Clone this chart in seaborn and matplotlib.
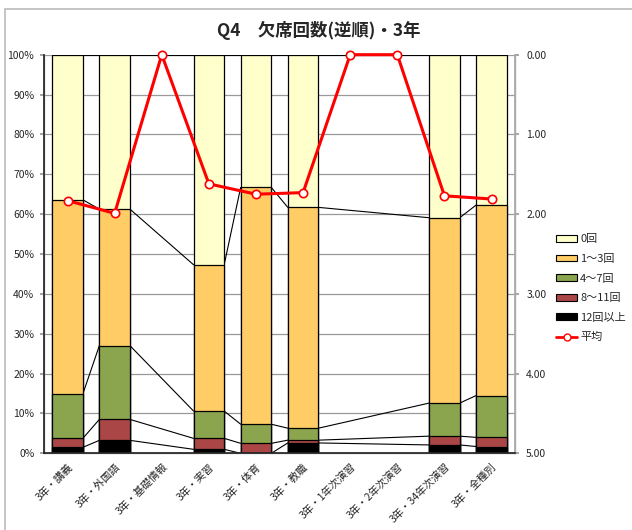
import numpy as np
import pandas as pd
import matplotlib
matplotlib.use("Agg")
import matplotlib.pyplot as plt
import seaborn as sns
from matplotlib.patches import Patch, Rectangle
from matplotlib.lines import Line2D

sns.set_theme(style="white")
plt.rcParams['font.family'] = ['Noto Sans CJK JP', 'DejaVu Sans']

categories = ["3年・講義", "3年・外国語", "3年・基礎情報", "3年・実習", "3年・体育",
              "3年・教職", "3年・1年次演習", "3年・2年次演習", "3年・34年次演習", "3年・全種別"]
levels = ["0回", "1～3回", "4～7回", "8～11回", "12回以上"]
nan = np.nan
v0 = [36.4, 38.75, nan, 52.7, 33.3, 38.3, nan, nan, 40.9, 37.7]
v1_3 = [48.7, 34.25, nan, 36.7, 59.4, 55.4, nan, nan, 46.5, 47.8]
v4_7 = [11.15, 18.5, nan, 6.85, 4.8, 3.0, nan, nan, 8.3, 10.5]
v8_11 = [2.25, 5.25, nan, 2.75, 2.5, 0.7, nan, nan, 2.2, 2.3]
v12 = [1.5, 3.25, nan, 1.0, 0.0, 2.6, nan, nan, 2.1, 1.7]
average = [1.83, 1.99, 0.0, 1.62, 1.75, 1.73, 0.0, 0.0, 1.77, 1.81]

colors = {"0回": "#FFFFCC", "1～3回": "#FFCC66", "4～7回": "#8BA54E",
          "8～11回": "#AA4646", "12回以上": "#000000"}

# cumulative tops (bottom-up order: 12+, 8-11, 4-7, 1-3, 0)
series = {"12回以上": v12, "8～11回": v8_11, "4～7回": v4_7, "1～3回": v1_3, "0回": v0}
cum = {}
running = np.zeros(len(categories))
for lv in ["12回以上", "8～11回", "4～7回", "1～3回", "0回"]:
    running = running + np.array(series[lv], dtype=float)
    cum[lv] = running.copy()

rows = []
for lv in levels:
    for c, val in zip(categories, cum[lv]):
        if not np.isnan(val):
            rows.append({"cat": c, "level": lv, "cum": val})
df = pd.DataFrame(rows)

fig = plt.figure(figsize=(6.32, 5.30), dpi=100)
ax = fig.add_axes([0.0696, 0.1447, 0.815 - 0.0696, 0.8968 - 0.1447])

W = 0.65
sns.barplot(data=df, x="cat", y="cum", hue="level", order=categories, hue_order=levels,
            palette=colors, saturation=1, dodge=False, width=W, edgecolor="black",
            linewidth=0.9, ax=ax, legend=False, zorder=3)

# series lines between consecutive non-empty bars
valid = [i for i in range(len(categories)) if not np.isnan(cum["0回"][i])]
for lv in levels:
    for a, b in zip(valid[:-1], valid[1:]):
        ax.plot([a + W / 2, b - W / 2], [cum[lv][a], cum[lv][b]], color="black", lw=0.8, zorder=2)

ax.set_xlim(-0.5, len(categories) - 0.5)
ax.set_ylim(0, 100)
ax.set_yticks(np.arange(0, 101, 10))
ax.set_yticklabels([f"{t}%" for t in range(0, 101, 10)], fontsize=7.5)
ax.yaxis.grid(True, color="#999999", lw=0.9, zorder=0)
ax.set_axisbelow(True)
ax.set_xlabel("")
ax.set_ylabel("")
ax.set_xticks(range(len(categories)))
ax.set_xticklabels(categories, rotation=45, ha="right", rotation_mode="anchor", fontsize=7.5)
ax.tick_params(axis="x", length=0, pad=6)
ax.tick_params(axis="y", length=3, color="#999999", left=True, pad=4)
ax.spines["top"].set_visible(False)
for s in ["left", "bottom", "right"]:
    ax.spines[s].set_color("#AAAAAA")
    ax.spines[s].set_linewidth(1.0)

ax2 = ax.twinx()
sns.lineplot(x=np.arange(len(categories)), y=average, ax=ax2, color="#FF0000", lw=2.2,
             marker="o", markersize=6, markerfacecolor="white", markeredgecolor="#FF0000",
             markeredgewidth=1.2, zorder=5, clip_on=False)
ax2.set_ylim(5, 0)
ax2.set_yticks(np.arange(0, 5.01, 1))
ax2.set_yticklabels([f"{t:.2f}" for t in np.arange(0, 5.01, 1)], fontsize=7.5)
ax2.tick_params(axis="y", length=3, color="#999999", right=True, pad=5)
ax2.spines["top"].set_visible(False)
ax2.spines["right"].set_color("#AAAAAA")
ax2.grid(False)
ax2.set_xlim(-0.5, len(categories) - 0.5)

handles = [Patch(facecolor=colors[lv], edgecolor="black", lw=0.8, label=lv) for lv in levels]
handles.append(Line2D([0], [0], color="#FF0000", lw=2, marker="o", markersize=5,
                      markerfacecolor="white", markeredgecolor="#FF0000", label="平均"))
fig.legend(handles=handles, loc="upper left", bbox_to_anchor=(0.873, 0.566),
           frameon=False, fontsize=8, handlelength=1.9, handleheight=0.55,
           handletextpad=0.25, labelspacing=0.86, borderaxespad=0)

fig.text(0.505, 0.943, "Q4　欠席回数(逆順)・3年", ha="center", va="center",
         fontsize=12.5, fontweight="bold")

# chart-area frame: only left and top edges visible in the crop
fig.patches.append(Rectangle((5 / 632, -0.1), 1.0, 1.1 - 9 / 530,
                             transform=fig.transFigure, fill=False,
                             edgecolor="#BBBBBB", lw=1.2))

fig.savefig("out.png", dpi=100)
